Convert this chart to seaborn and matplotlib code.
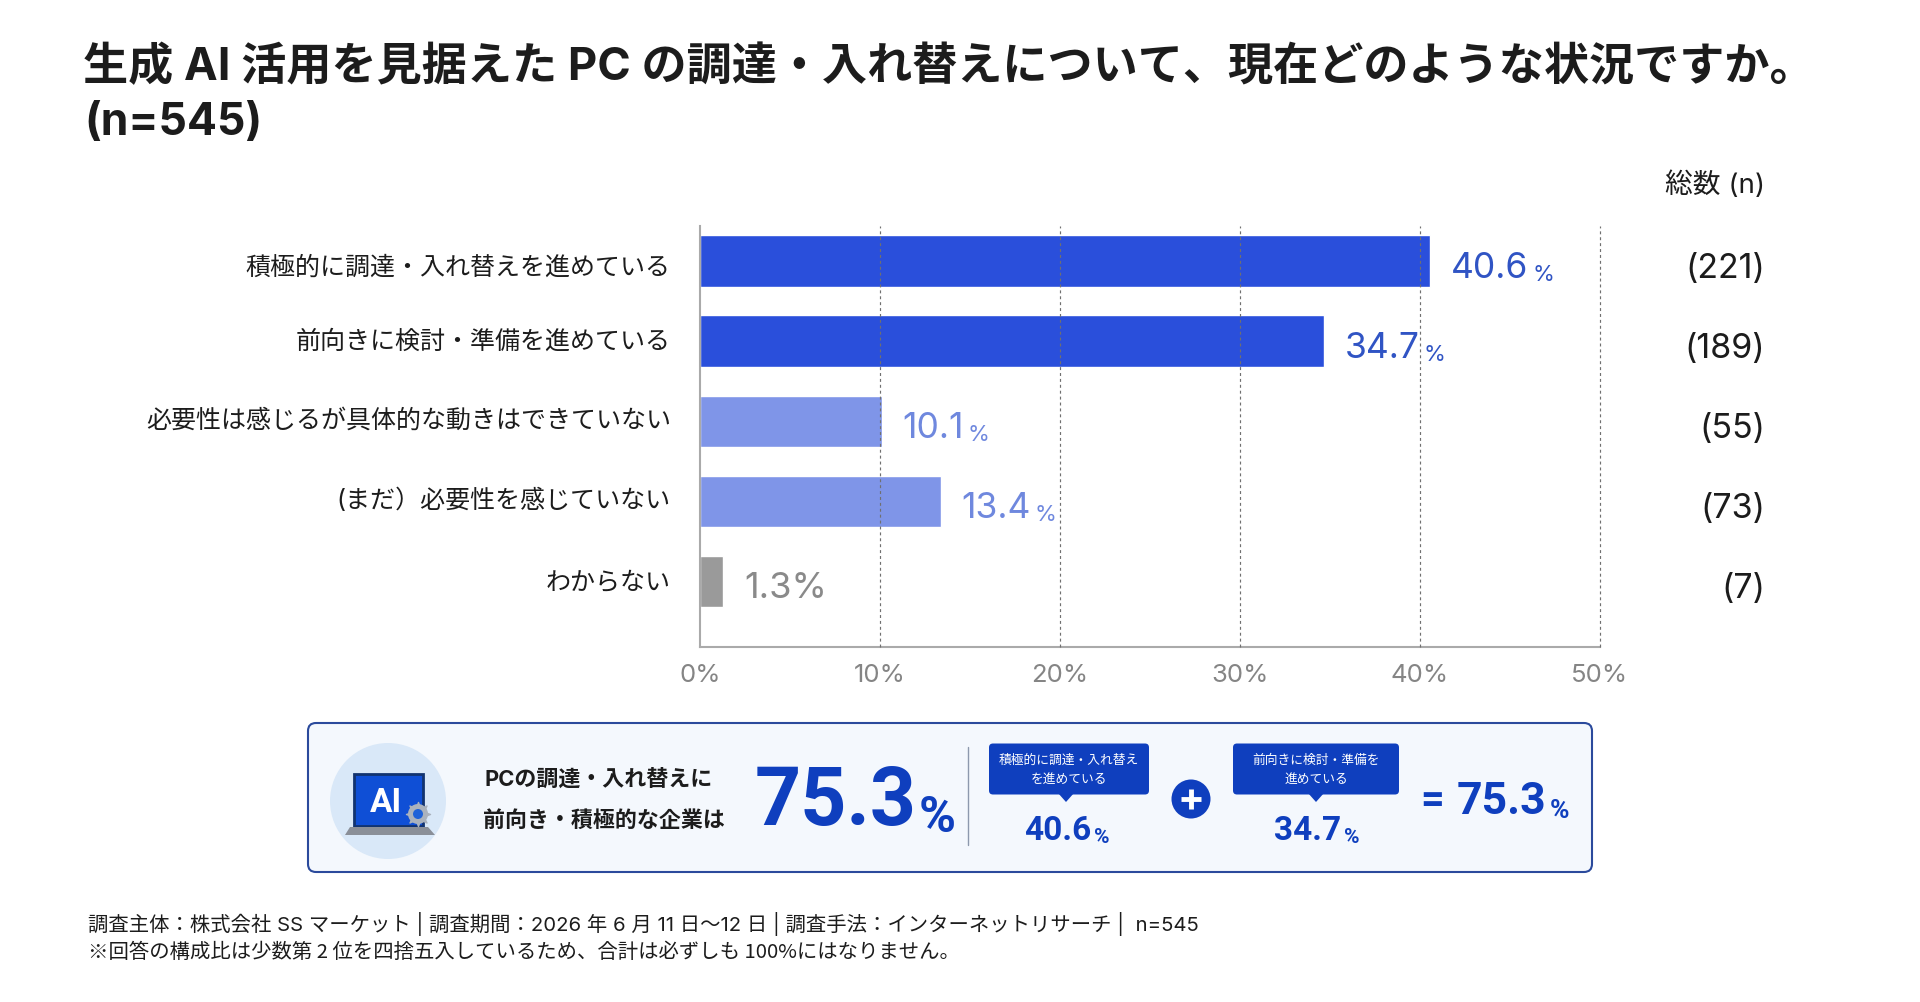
import matplotlib
matplotlib.use('Agg')
import matplotlib.pyplot as plt
import seaborn as sns
from matplotlib.patches import Circle, FancyBboxPatch, Polygon, Rectangle
from matplotlib.transforms import ScaledTranslation

title_lines = ['生成 AI 活用を見据えた PC の調達・入れ替えについて、現在どのような状況ですか。', '(n=545)']
categories = ['積極的に調達・入れ替えを進めている', '前向きに検討・準備を進めている',
              '必要性は感じるが具体的な動きはできていない', '(まだ）必要性を感じていない', 'わからない']
shares = [40.6, 34.7, 10.1, 13.4, 1.3]
counts = [221, 189, 55, 73, 7]
x_ticks = [0, 10, 20, 30, 40, 50]
combined = 75.3
callout_1 = ['積極的に調達・入れ替え', 'を進めている']
callout_2 = ['前向きに検討・準備を', '進めている']
footer = ['調査主体：株式会社 SS マーケット | 調査期間：2026 年 6 月 11 日〜12 日 | 調査手法：インターネットリサーチ |  n=545',
          '※回答の構成比は少数第 2 位を四捨五入しているため、合計は必ずしも 100%にはなりません。']

bar_colors = ['#2a4fdb', '#2a4fdb', '#7f95e8', '#7f95e8', '#9a9a9a']
label_colors = ['#3054c4', '#3054c4', '#6f88de', '#6f88de', '#8a8a8a']
INK = '#1c1c1c'
BLUE = '#0f3fbe'
HEAVY = ['Roboto', 'DejaVu Sans']

sns.set_theme(style='white')
plt.rcParams['font.family'] = ['Inter', 'Noto Sans CJK JP', 'DejaVu Sans']

fig = plt.figure(figsize=(19.2, 10.03), dpi=100)

# overlay in pixel coordinates for everything around the chart
bg = fig.add_axes([0, 0, 1, 1])
bg.set_xlim(0, 1920)
bg.set_ylim(1003, 0)
bg.axis('off')

ax = fig.add_axes([700 / 1920, 1 - 647.5 / 1003, 899.5 / 1920, 420.5 / 1003])
sns.barplot(x=shares, y=categories, hue=categories, palette=bar_colors, width=0.64,
            legend=False, saturation=1, ax=ax)
ax.set_xlim(0, 50)
ax.set_ylim(4.813, -0.437)
ax.patch.set_alpha(0)
ax.set_xticks(x_ticks, [f'{t}%' for t in x_ticks], fontsize=18.5, color='#858585')
ax.tick_params(axis='x', length=0, pad=12)
ax.tick_params(axis='y', length=0, pad=21, labelsize=18, labelcolor=INK)
ax.grid(axis='x', ls=(0, (2.5, 2.5)), color='#707070', lw=0.85, zorder=5)
ax.set_axisbelow(False)
for line in ax.xaxis.get_gridlines():
    line.set_clip_on(False)
ax.xaxis.get_gridlines()[0].set_visible(False)
sns.despine(ax=ax, top=True, right=True)
for side in ['left', 'bottom']:
    ax.spines[side].set_color('#aaaaaa')
    ax.spines[side].set_linewidth(1.5)

# the category names are not quite centred on their bars in the original
for lab, pts in zip(ax.get_yticklabels(), [-2.3, 2.1, 3, 3, 1.2]):
    lab.set_transform(lab.get_transform() + ScaledTranslation(0, pts / 72, fig.dpi_scale_trans))


def pct_label(parent, num, small_size, color, gap=3, **kw):
    # percent sign after a number, baseline aligned
    return parent.annotate('%', xy=(1, 0), xycoords=num, xytext=(gap, 0), textcoords='offset points',
                           fontsize=small_size, color=color, ha='left', va='bottom', **kw)


for i, (v, c) in enumerate(zip(shares, label_colors)):
    if i == 4:
        ax.annotate(f'{v}%', (v, i), xytext=(15, -4.5), textcoords='offset points', fontsize=26,
                    color=c, va='center')
        continue
    t = ax.annotate(f'{v}', (v, i), xytext=(14.5, -4.5), textcoords='offset points', fontsize=25.5,
                    color=c, va='center')
    pct_label(ax, t, 16, c, gap=3)

for i, n in enumerate(counts):
    ax.annotate(f'({n})', (1765 / 1920, i), xycoords=('figure fraction', 'data'), xytext=(0, -5),
                textcoords='offset points', fontsize=24.5, color=INK, ha='right', va='center',
                annotation_clip=False)

bg.text(83, 67, title_lines[0], fontsize=32.5, fontweight='bold', color=INK, va='center')
bg.text(84, 123, title_lines[1], fontsize=32, fontweight='bold', color=INK, va='center')
bg.text(1765, 185, '総数 (n)', fontsize=20, color=INK, ha='right', va='center')

# summary panel
bg.add_patch(FancyBboxPatch((314, 730), 1272, 137, boxstyle='round,pad=6,rounding_size=8',
                            fc='#f4f8fd', ec='#2b4a9c', lw=1.5))
bg.add_patch(Circle((388, 802), 58, fc='#d9e8f8', ec='none'))
bg.add_patch(Rectangle((354, 775), 69, 52, fc='#0f4fd6', ec='#12336f', lw=2))
bg.add_patch(Polygon([(350, 828), (428, 828), (435, 836), (345, 836)], fc='#8a8f98', ec='none'))
bg.text(386, 803, 'AI', fontsize=24, fontweight='bold', color='white', ha='center', va='center',
        family=HEAVY)
bg.add_patch(Circle((418, 815), 10, fc='#aab2bd', ec='none', zorder=4))
bg.scatter([418], [815], s=300, marker=(8, 1, 0), color='#aab2bd', zorder=4)
bg.add_patch(Circle((418, 815), 5, fc='#1f62d8', ec='none', zorder=5))

bg.text(485, 779, 'PCの調達・入れ替えに', fontsize=15.8, fontweight='bold', color=INK, va='center')
bg.text(483, 820, '前向き・積極的な企業は', fontsize=15.8, fontweight='bold', color=INK, va='center')

big = bg.text(755, 803, f'{combined}', fontsize=58, fontweight='bold', color=BLUE, va='center',
              family=HEAVY)
pct_label(bg, big, 36, BLUE, gap=1, fontweight='bold', family=HEAVY)

bg.plot([968, 968], [748, 846], color='#8d99ad', lw=1)

for left, right, tip, lines, value in [(989, 1149, 1066, callout_1, shares[0]),
                                       (1233, 1399, 1316, callout_2, shares[1])]:
    bg.add_patch(FancyBboxPatch((left + 3, 747.5), right - left - 6, 45,
                                boxstyle='round,pad=3,rounding_size=4', fc=BLUE, ec='none'))
    bg.add_patch(Polygon([(tip - 8, 794), (tip + 8, 794), (tip, 803)], fc=BLUE, ec='none'))
    mid = (left + right) / 2
    bg.text(mid, 761, lines[0], fontsize=9.2, color='white', ha='center', va='center')
    bg.text(mid, 780, lines[1], fontsize=9.2, color='white', ha='center', va='center')
    t = bg.text(tip - 8, 831, f'{value}', fontsize=24, fontweight='bold', color=BLUE, ha='center',
                va='center', family=HEAVY)
    pct_label(bg, t, 15, BLUE, gap=1.5, fontweight='bold', family=HEAVY)

bg.add_patch(Circle((1191, 800), 19.5, fc=BLUE, ec='none'))
bg.plot([1181, 1201], [800, 800], color='white', lw=3.5, solid_capstyle='butt')
bg.plot([1191, 1191], [790, 810], color='white', lw=3.5, solid_capstyle='butt')

bg.text(1420, 802, '=', fontsize=30, fontweight='bold', color=BLUE, va='center', family=HEAVY)
t = bg.text(1457, 802, f'{combined}', fontsize=32, fontweight='bold', color=BLUE, va='center',
            family=HEAVY)
pct_label(bg, t, 19, BLUE, gap=2, fontweight='bold', family=HEAVY)

bg.text(88, 924, footer[0], fontsize=14.65, color=INK, va='center')
# Noto first here so the reference mark comes out full width
bg.text(88, 953, footer[1], fontsize=14.65, color=INK, va='center', family=['Noto Sans CJK JP', 'DejaVu Sans'])

fig.savefig('out.png', dpi=100, facecolor='white')
